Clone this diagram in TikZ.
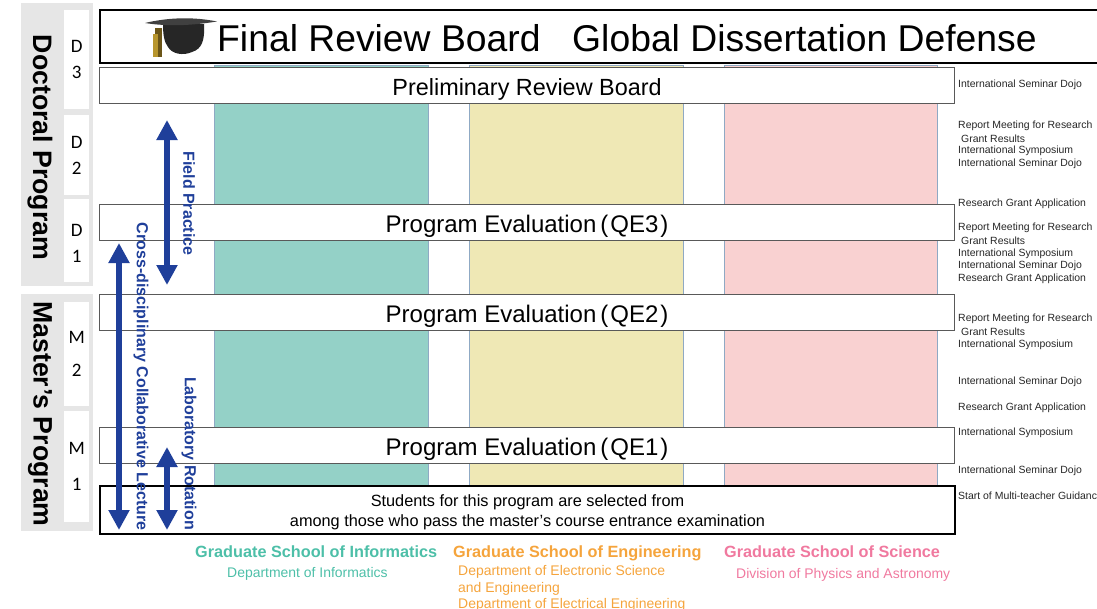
\documentclass[tikz,border=0pt]{standalone}
\usepackage{fontspec}
\setmainfont{Liberation Sans}
\newfontfamily\uifont{Carlito}
\usetikzlibrary{arrows.meta}
\newcommand\qelabel[1]{{\fontsize{24}{26}\selectfont Program Evaluation\hspace{4pt}(\hspace{2pt}QE#1\hspace{2pt})}}
\definecolor{arrowblue}{HTML}{1F3F9A}
\definecolor{tealfill}{HTML}{94D1C7}
\definecolor{yellowfill}{HTML}{EFE8B5}
\definecolor{pinkfill}{HTML}{F9D1D1}
\definecolor{coledge}{HTML}{8FA9C4}
\definecolor{teallabel}{HTML}{4DBFA8}
\definecolor{orangelabel}{HTML}{F5A43C}
\definecolor{pinklabel}{HTML}{F0799F}
\definecolor{bandgray}{HTML}{E6E6E6}
\definecolor{tasselgold}{HTML}{B8962E}
\definecolor{tasseldark}{HTML}{6B5518}
\tikzset{
  x=1pt,y=-1pt,
  column/.style={anchor=north west,draw=coledge,line width=1pt,minimum width=214pt,minimum height=420pt,inner sep=0pt},
  band/.style={anchor=north west,fill=bandgray,minimum width=72pt,inner sep=0pt},
  yearbox/.style={anchor=north west,fill=white,minimum width=25pt,inner sep=0pt,align=center,font=\uifont\fontsize{19}{26}\selectfont},
  bar/.style={anchor=north west,draw=black!65,fill=white,line width=1.1pt,minimum width=855pt,minimum height=36pt,inner sep=0pt,text height=19.5pt,text depth=0pt,font=\fontsize{23.4}{26}\selectfont},
  heavy/.style={anchor=north west,draw=black,fill=white,line width=2pt,inner sep=0pt},
  progtitle/.style={rotate=-90,font=\bfseries\fontsize{26.7}{30}\selectfont},
  side/.style={anchor=west,inner sep=0pt,yshift=-1.2pt,font=\fontsize{10.45}{12}\selectfont,text=black!85},
  span/.style={draw=arrowblue,line width=6pt,{Triangle[width=20pt,length=20pt]}-{Triangle[width=20pt,length=20pt]}},
  spanlabel/.style={rotate=-90,inner sep=0pt,text=arrowblue,font=\bfseries\fontsize{16}{18}\selectfont},
  school/.style={anchor=base west,inner sep=0pt,font=\bfseries\fontsize{16.25}{18}\selectfont},
  dept/.style={anchor=base west,inner sep=0pt,font=\fontsize{13.95}{16}\selectfont}
}
\begin{document}
\begin{tikzpicture}
\useasboundingbox (0,0) rectangle (1097,608);
\clip (0,0) rectangle (1097,608);
% columns
\node[column,fill=tealfill] (informatics) at (214,65) {};
\node[column,fill=yellowfill] (engineering) at (469,65) {};
\node[column,fill=pinkfill,minimum width=213pt] (science) at (724,65) {};
% program bands
\node[band,minimum height=283pt] (docband) at (21,3) {};
\node[band,minimum height=237pt] (masband) at (21,294) {};
\node[progtitle] (doctitle) at (40,147.5) {Doctoral Program};
\node[progtitle] (mastitle) at (40,414) {Master’s Program};
\node[yearbox,minimum height=99pt] (d3) at (64,10) {D\\3};
\node[yearbox,minimum height=80pt] (d2) at (64,115) {D\\2};
\node[yearbox,minimum height=83pt] (d1) at (64,199) {\rule{0pt}{18pt}D\\1};
\node[yearbox,minimum height=104pt] (m2) at (64,302) {M\\[7pt]2};
\node[yearbox,minimum height=111pt] (m1) at (64,411) {M\\[10pt]1};
% bars
\node[bar] (prelim) at (99,67) {Preliminary Review Board};
\node[bar] (qe3) at (99,204) {\qelabel{3}};
\node[bar] (qe2) at (99,294) {\qelabel{2}};
\node[bar] (qe1) at (99,427) {\qelabel{1}};
\node[heavy,minimum width=1010pt,minimum height=53pt] (final) at (99,9) {};
\node[inner sep=0pt,anchor=west,font=\fontsize{37.3}{40}\selectfont] (finaltext) at (217,38) {Final Review Board\hspace{0.85em}Global Dissertation Defense};
\node[heavy,minimum width=855pt,minimum height=48pt,align=center,font=\fontsize{16.3}{20}\selectfont] (entry) at (99,485) {\rule{0pt}{16pt}Students for this program are selected from\\among those who pass the master’s course entrance examination};
% cap
\fill[black!85] (163,24) -- (204,24) .. controls (205,40) and (202,49) .. (192,52) .. controls (183,56) and (172,54) .. (168,47) .. controls (164,42) and (163,34) .. (163,24) -- cycle;
\fill[black!75] (145,23) .. controls (170,17) and (195,17) .. (217,21.5) .. controls (195,25) and (170,27) .. (145,23) -- cycle;
\fill[tasseldark] (155,28) rectangle (162,35);
\fill[tasselgold] (153,34) rectangle (162,57);
\fill[tasseldark] (158,34) rectangle (162,57);
% arrows
\coordinate (fieldtop) at (167,120);
\coordinate (fieldbot) at (167,285);
\coordinate (crosstop) at (119,243);
\coordinate (crossbot) at (119,530);
\coordinate (labtop) at (167,447);
\coordinate (labbot) at (167,530);
\draw[span] (fieldtop) -- (fieldbot);
\draw[span] (crosstop) -- (crossbot);
\draw[span] (labtop) -- (labbot);
\node[spanlabel] (fieldlabel) at (189,203.5) {Field Practice};
\node[spanlabel] (crosslabel) at (141,376.5) {Cross-disciplinary Collaborative Lecture};
\node[spanlabel] (lablabel) at (189,453.5) {Laboratory Rotation};
% side notes
\foreach \n/\xx/\yy/\t in {
 s1/958/84/International Seminar Dojo,
 s2/958/125/Report Meeting for Research,
 s3/961/138/Grant Results,
 s4/958/150/International Symposium,
 s5/958/163/International Seminar Dojo,
 s6/958/203/Research Grant Application,
 s7/958/227/Report Meeting for Research,
 s8/961/240/Grant Results,
 s9/958/253/International Symposium,
 s10/958/265/International Seminar Dojo,
 s11/958/278/Research Grant Application,
 s12/958/318/Report Meeting for Research,
 s13/961/331/Grant Results,
 s14/958/344/International Symposium,
 s15/958/381/International Seminar Dojo,
 s16/958/407/Research Grant Application,
 s17/958/432/International Symposium,
 s18/958/470/International Seminar Dojo,
 s19/958/495/Start of Multi-teacher Guidance}
 {\node[side] (\n) at (\xx,\yy) {\t};}
% school labels
\node[school,text=teallabel] (sch1) at (195,557) {Graduate School of Informatics};
\node[dept,text=teallabel] (dep1) at (227,577) {Department of Informatics};
\node[school,text=orangelabel] (sch2) at (453,557) {Graduate School of Engineering};
\node[dept,text=orangelabel] (dep2) at (458,575.5) {Department of Electronic Science};
\node[dept,text=orangelabel] (dep3) at (458,592) {and Engineering};
\node[dept,text=orangelabel] (dep4) at (458,608) {Department of Electrical Engineering};
\node[school,text=pinklabel] (sch3) at (724,557) {Graduate School of Science};
\node[dept,text=pinklabel] (dep5) at (736,578) {Division of Physics and Astronomy};
\end{tikzpicture}
\end{document}
